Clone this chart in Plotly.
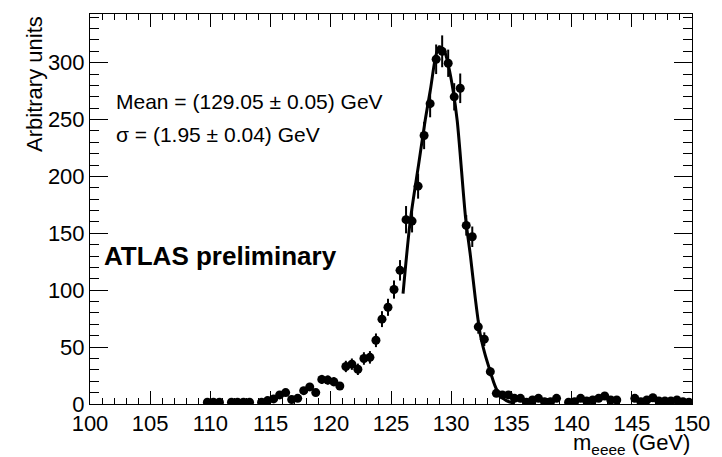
import plotly.graph_objects as go

# Histogram bin centres (GeV) and contents (arbitrary units); empty bins omitted
mass = [109.75, 110.25, 110.75,
        111.75, 112.25, 112.75, 113.25,
        114.25, 114.75, 115.25, 115.75, 116.25, 116.75, 117.25, 117.75,
        118.25, 118.75, 119.25, 119.75, 120.25, 120.75, 121.25, 121.75,
        122.25, 122.75, 123.25, 123.75, 124.25, 124.75, 125.25, 125.75,
        126.25, 126.75, 127.25, 127.75, 128.25, 128.75, 129.25, 129.75,
        130.25, 130.75, 131.25, 131.75, 132.25, 132.75, 133.25, 133.75,
        134.25, 134.75, 135.25, 135.75, 136.25, 136.75, 137.25, 137.75,
        138.25, 138.75,
        139.75, 140.25, 140.75, 141.25, 141.75, 142.25, 142.75, 143.25, 143.75,
        145.25, 145.75, 146.25, 146.75, 147.25, 147.75, 148.25, 148.75,
        149.25, 149.75]
counts = [1.5, 1.5, 1.5,
          1.5, 1.5, 1.5, 1.5,
          1.5, 3, 4.5, 8, 10, 4, 5, 11.7,
          15, 10, 21.6, 21, 19.6, 15.8, 33, 35,
          30.5, 40, 41, 56, 74.6, 85, 100.6, 117.5,
          162, 160.8, 191.5, 236, 264, 303, 310, 299.5,
          270, 277.5, 157, 147, 67.8, 57, 28.4, 9.4,
          8, 8, 5, 5, 1.5, 3.5, 5, 2,
          2, 5,
          1.5, 2, 5, 2.6, 3.5, 5, 7, 3.5, 3.5,
          5, 2, 3.5, 5.5, 2.6, 2.6, 2.6, 3.5,
          2, 1.5]
errors = [1, 1, 1,
          1, 1, 1, 1,
          1, 1.5, 2, 2.5, 3, 2, 2, 3,
          3.5, 3, 4, 4, 4, 3.5, 5, 5,
          5, 5.5, 5.5, 6, 7, 7.5, 8, 9,
          12, 10, 11, 12, 12, 13, 14, 12,
          12, 13, 9, 9, 6, 6, 4, 2.5,
          2.5, 2.5, 2, 2, 1, 1.5, 2, 1,
          1, 2,
          1, 1, 2, 1.5, 1.5, 2, 2.5, 1.5, 1.5,
          2, 1, 1.5, 2, 1.5, 1.5, 1.5, 1.5,
          1, 1]

# Fitted curve
fit_mass = [126.0, 126.6, 127.3, 127.85, 128.3, 128.7, 129.0, 129.4, 129.8,
            130.15, 130.5, 131.2, 131.6, 132.0, 132.4, 132.8, 133.2, 133.6,
            133.9, 134.3, 134.8, 135.3]
fit_vals = [97, 161, 211, 250, 278, 305, 314, 311, 296,
            276, 249, 163, 130, 93, 62, 44, 30, 17,
            10, 5, 2, 1]

x_ticks = [100, 105, 110, 115, 120, 125, 130, 135, 140, 145, 150]
y_ticks = [0, 50, 100, 150, 200, 250, 300]

FONT = "Liberation Sans, Arial, Helvetica, sans-serif"

fig = go.Figure()
fig.add_trace(go.Scatter(
    x=fit_mass, y=fit_vals, mode="lines",
    line=dict(color="black", width=3, shape="spline", smoothing=0.8),
    hoverinfo="skip", showlegend=False))
fig.add_trace(go.Scatter(
    x=mass, y=counts, mode="markers",
    marker=dict(color="black", size=9, symbol="circle"),
    error_y=dict(type="data", array=errors, visible=True,
                 color="black", thickness=2, width=0),
    showlegend=False))

fig.update_layout(
    width=722, height=457,
    margin=dict(l=90, r=25, t=14, b=53),
    paper_bgcolor="white", plot_bgcolor="white",
    font=dict(family=FONT, size=22, color="black"),
    xaxis=dict(range=[100, 150], tickvals=x_ticks,
               ticktext=[str(v) for v in x_ticks],
               ticks="inside", ticklen=13, tickwidth=1, tickcolor="black",
               minor=dict(ticks="inside", ticklen=6, dtick=1, tickcolor="black"),
               showline=True, linecolor="black", linewidth=1, mirror="allticks",
               showgrid=False, zeroline=False,
               tickfont=dict(size=22)),
    yaxis=dict(range=[0, 342.8], tickvals=y_ticks,
               ticktext=[str(v) for v in y_ticks],
               ticks="inside", ticklen=18, tickwidth=1, tickcolor="black",
               minor=dict(ticks="inside", ticklen=9, dtick=10, tickcolor="black"),
               showline=True, linecolor="black", linewidth=1, mirror="allticks",
               showgrid=False, zeroline=False,
               tickfont=dict(size=22)),
)

fig.add_annotation(text="Arbitrary units", textangle=-90,
                   xref="paper", yref="paper", x=-0.069, y=1.0,
                   xanchor="right", yanchor="top", showarrow=False,
                   font=dict(size=22, family=FONT))
fig.add_annotation(text="m<sub>eeee</sub> (GeV)",
                   xref="paper", yref="paper", x=1.0, y=-0.103,
                   xanchor="right", yanchor="middle", showarrow=False,
                   font=dict(size=22, family=FONT))
fig.add_annotation(text="Mean = (129.05 ± 0.05) GeV",
                   xref="paper", yref="paper", x=0.04, y=0.775,
                   xanchor="left", yanchor="middle", showarrow=False,
                   font=dict(size=21, family=FONT))
fig.add_annotation(text="σ = (1.95 ± 0.04) GeV",
                   xref="paper", yref="paper", x=0.04, y=0.69,
                   xanchor="left", yanchor="middle", showarrow=False,
                   font=dict(size=21, family=FONT))
fig.add_annotation(text="<b>ATLAS preliminary</b>",
                   xref="paper", yref="paper", x=0.02, y=0.38,
                   xanchor="left", yanchor="middle", showarrow=False,
                   font=dict(size=26, family=FONT))

fig.write_html("out.html")
